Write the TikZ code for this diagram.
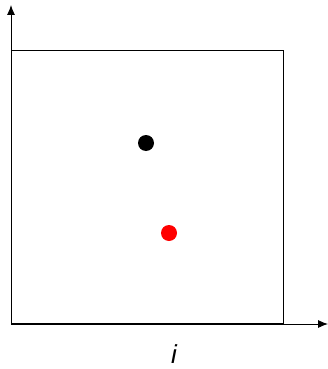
\documentclass[tikz,border=0pt]{standalone}
\usepackage{fontspec}
\setmainfont{Liberation Sans}
\usetikzlibrary{arrows.meta}
\begin{document}
\begin{tikzpicture}[x=1pt,y=-1pt,
  axis/.style={line width=0.9pt,-{Latex[length=10pt,width=8pt]}},
  box/.style={line width=0.9pt},
  dot/.style={circle,inner sep=0pt,minimum size=16pt}]
\useasboundingbox (0,0) rectangle (328,369);
\coordinate (o) at (11,324);
\coordinate (ytip) at (11,5);
\coordinate (xtip) at (328,324);
\draw[axis] (o) -- (ytip);
\draw[axis] (o) -- (xtip);
\node[draw,box,minimum width=272pt,minimum height=273pt,inner sep=0pt,anchor=south west] (sq) at (o) {};
\node[dot,fill=black] (b) at (146,143) {};
\node[dot,fill=red] (r) at (169,233) {};
\node[font=\fontsize{26}{30}\selectfont\itshape,inner sep=0pt,anchor=base] (lab) at (174,363) {i};
\end{tikzpicture}
\end{document}
